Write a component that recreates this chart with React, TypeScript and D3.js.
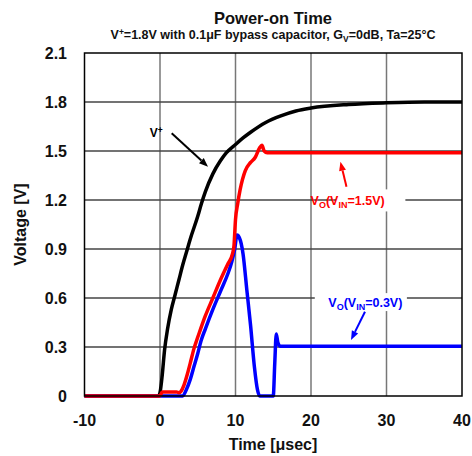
import React from "react";
import * as d3 from "d3";

const xTicks = [-10, 0, 10, 20, 30, 40];
const yTicks = [0, 0.3, 0.6, 0.9, 1.2, 1.5, 1.8, 2.1];

const vPlusT = [-10, -0.2, 0, 0.3, 0.6, 1, 1.5, 2, 2.5, 3, 3.5, 4, 5, 5.5, 6, 7, 8, 8.8, 10, 11, 12, 14, 16, 18, 20, 25, 30, 35, 40];
const vPlusV = [0, 0, 0.02, 0.13, 0.28, 0.41, 0.53, 0.62, 0.71, 0.8, 0.88, 0.96, 1.1, 1.18, 1.25, 1.36, 1.44, 1.49, 1.54, 1.58, 1.615, 1.675, 1.715, 1.745, 1.763, 1.785, 1.795, 1.8, 1.8];

const vo15T = [-10, 0, 0.3, 2.2, 2.5, 2.8, 3.2, 3.6, 4, 4.5, 4.85, 5.3, 6, 7, 8, 9, 9.6, 9.8, 10, 10.3, 10.6, 11.3, 12, 12.6, 13.2, 13.5, 13.8, 14.2, 20, 30, 40];
const vo15V = [0, 0, 0.025, 0.025, 0.02, 0.03, 0.07, 0.13, 0.2, 0.29, 0.34, 0.4, 0.49, 0.6, 0.71, 0.81, 0.87, 0.92, 1.08, 1.18, 1.26, 1.38, 1.43, 1.46, 1.52, 1.535, 1.5, 1.49, 1.49, 1.49, 1.49];

const vo03T = [-10, 3, 3.5, 4, 4.5, 5, 5.45, 6, 7, 8, 9, 9.5, 9.9, 10.2, 10.5, 11, 11.5, 12, 12.5, 12.9, 13.2, 15, 15.2, 15.4, 15.6, 15.9, 20, 30, 40];
const vo03V = [0, 0, 0.04, 0.1, 0.18, 0.26, 0.34, 0.41, 0.53, 0.64, 0.75, 0.82, 0.9, 0.985, 0.97, 0.87, 0.65, 0.43, 0.18, 0.04, 0, 0, 0.2, 0.38, 0.33, 0.305, 0.305, 0.305, 0.305];

const W = 472, H = 456;
const L = 84.5, R = 462, T = 53, B = 396;
const FONT = "'Liberation Sans', Arial, sans-serif";

export default function App() {
  const x = d3.scaleLinear().domain([-10, 40]).range([L, R]);
  const y = d3.scaleLinear().domain([0, 2.1]).range([B, T]);
  const line = d3.line<[number, number]>().x(d => x(d[0])).y(d => y(d[1])).curve(d3.curveMonotoneX);
  const zip = (a: number[], b: number[]) => a.map((t, i) => [t, b[i]] as [number, number]);

  const arrow = (x1: number, y1: number, x2: number, y2: number, color: string) => {
    const px1 = x(x1), py1 = y(y1), px2 = x(x2), py2 = y(y2);
    const ang = Math.atan2(py2 - py1, px2 - px1);
    const len = 9, half = 3.5;
    const bx = px2 - len * Math.cos(ang), by = py2 - len * Math.sin(ang);
    const p1 = [bx + half * Math.sin(ang), by - half * Math.cos(ang)];
    const p2 = [bx - half * Math.sin(ang), by + half * Math.cos(ang)];
    return (
      <g>
        <line x1={px1} y1={py1} x2={bx} y2={by} stroke={color} strokeWidth={2} />
        <polygon points={`${px2},${py2} ${p1[0]},${p1[1]} ${p2[0]},${p2[1]}`} fill={color} />
      </g>
    );
  };

  return (
    <svg width={W} height={H} style={{ position: "absolute", left: 0, top: 0, background: "#fff" }} fontFamily={FONT}>
      <rect x={0} y={0} width={W} height={H} fill="#fff" />
      {xTicks.slice(1, -1).map(t => (
        <line key={"vx" + t} x1={x(t)} x2={x(t)} y1={T} y2={B} stroke="#777" strokeWidth={1.5} />
      ))}
      {yTicks.slice(1, -1).map(t => (
        <line key={"hy" + t} x1={L} x2={R} y1={y(t)} y2={y(t)} stroke="#444" strokeWidth={1.3} />
      ))}
      {/* label boxes */}
      <rect x={x(23.3)} y={y(1.265)} width={x(32.5) - x(23.3)} height={y(1.13) - y(1.265)} fill="#fff" />
      <rect x={x(20.5)} y={y(0.63)} width={x(32.7) - x(20.5)} height={y(0.52) - y(0.63)} fill="#fff" />
      <path d={line(zip(vPlusT, vPlusV)) || ""} fill="none" stroke="#000" strokeWidth={3.5} strokeLinejoin="round" />
      <path d={line(zip(vo03T, vo03V)) || ""} fill="none" stroke="#0000ff" strokeWidth={3.5} strokeLinejoin="round" />
      <path d={line(zip(vo15T, vo15V)) || ""} fill="none" stroke="#ff0000" strokeWidth={3.5} strokeLinejoin="round" />
      <rect x={L} y={T} width={R - L} height={B - T} fill="none" stroke="#000" strokeWidth={1.5} />

      {yTicks.map(t => (
        <text key={"yt" + t} x={67} y={y(t) + 6} textAnchor="end" fontSize={16} fontWeight="bold" fill="#111">
          {t === 0 ? "0" : t.toFixed(1)}
        </text>
      ))}
      {xTicks.map(t => (
        <text key={"xt" + t} x={x(t)} y={426} textAnchor="middle" fontSize={16} fontWeight="bold" fill="#111">
          {t}
        </text>
      ))}
      <text x={273} y={450} textAnchor="middle" fontSize={16} fontWeight="bold" fill="#111">Time [μsec]</text>
      <text transform={`translate(26,${(T + B) / 2}) rotate(-90)`} textAnchor="middle" fontSize={16} fontWeight="bold" fill="#111">Voltage [V]</text>

      <text x={273} y={24} textAnchor="middle" fontSize={16.5} fontWeight="bold" fill="#111">Power-on Time</text>
      <text x={273} y={39} textAnchor="middle" fontSize={12.5} fontWeight="bold" fill="#111">
        V<tspan fontSize={8.5} dy={-4}>+</tspan><tspan dy={4}>=1.8V with 0.1μF bypass capacitor, G</tspan>
        <tspan fontSize={8.5} dy={3}>V</tspan><tspan dy={-3}>=0dB, Ta=25°C</tspan>
      </text>

      {/* annotations */}
      <text x={x(-0.5)} y={y(1.61) + 4} textAnchor="middle" fontSize={12} fontWeight="bold" fill="#000">
        V<tspan fontSize={8.5} dy={-4}>+</tspan>
      </text>
      {arrow(1.55, 1.608, 6.36, 1.404, "#000")}

      <text x={x(24.85)} y={y(1.2) + 4.5} textAnchor="middle" fontSize={12.5} fontWeight="bold" fill="#ff0000">
        V<tspan fontSize={9} dy={3}>O</tspan><tspan dy={-3}>(V</tspan><tspan fontSize={9} dy={3}>IN</tspan><tspan dy={-3}>=1.5V)</tspan>
      </text>
      {arrow(24.7, 1.281, 23.9, 1.434, "#ff0000")}

      <text x={x(27.2)} y={y(0.575) + 4.5} textAnchor="middle" fontSize={12.5} fontWeight="bold" fill="#0000ff">
        V<tspan fontSize={9} dy={3}>O</tspan><tspan dy={-3}>(V</tspan><tspan fontSize={9} dy={3}>IN</tspan><tspan dy={-3}>=0.3V)</tspan>
      </text>
      {arrow(27.15, 0.516, 25.3, 0.343, "#0000ff")}
    </svg>
  );
}
